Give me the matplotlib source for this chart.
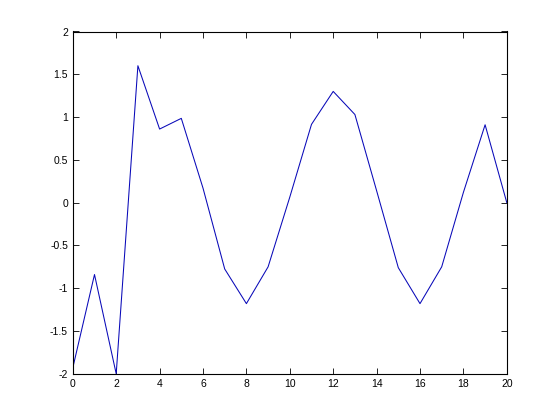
import matplotlib
matplotlib.use('Agg')
import matplotlib.pyplot as plt
import numpy as np

# values
x = np.arange(0, 21)
y = [-1.93, -0.84, -2.0, 1.60, 0.86, 0.985, 0.17, -0.775, -1.18, -0.75,
     0.065, 0.915, 1.30, 1.03, 0.14, -0.76, -1.18, -0.75, 0.12, 0.91, 0.0]

xticks = np.arange(0, 21, 2)
yticks = [-2, -1.5, -1, -0.5, 0, 0.5, 1, 1.5, 2]
yticklabels = ['-2', '-1.5', '-1', '-0.5', '0', '0.5', '1', '1.5', '2']

plt.rcParams['font.family'] = ['Liberation Sans', 'DejaVu Sans']
plt.rcParams['axes.unicode_minus'] = False

fig = plt.figure(figsize=(5.6, 4.2), dpi=100)
ax = fig.add_axes([0.13, 0.11, 0.775, 0.815])
ax.plot(x, y, color='#0808b8', linewidth=0.75)
ax.set_xlim(0, 20)
ax.set_ylim(-2, 2)
ax.set_xticks(xticks)
ax.set_yticks(yticks)
ax.set_yticklabels(yticklabels)
ax.tick_params(direction='in', top=True, right=True, labelsize=7.5, length=4, width=0.6)
for s in ax.spines.values():
    s.set_linewidth(0.8)
fig.savefig('out.png', dpi=100)
